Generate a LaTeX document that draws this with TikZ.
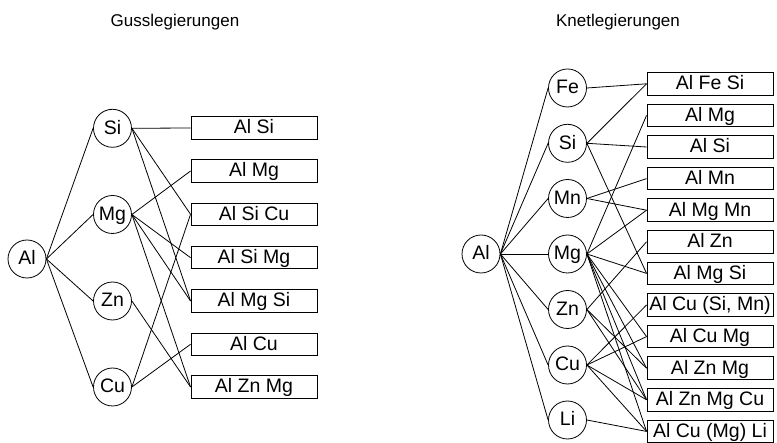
\documentclass[tikz,border=0pt]{standalone}
\usepackage{fontspec}
\setmainfont{Liberation Sans}
\begin{document}
\begin{tikzpicture}[x=1pt,y=-1pt]
\tikzset{
  elem/.style={circle, draw, line width=0.8pt, minimum size=38pt, inner sep=0pt,
    font=\fontsize{19.5pt}{22pt}\selectfont, text height=14pt, text depth=2pt},
  alloy/.style={rectangle, draw, line width=0.9pt, minimum width=126pt, minimum height=22.5pt,
    inner sep=0pt, font=\fontsize{19.5pt}{22pt}\selectfont, text height=14pt, text depth=2pt},
  link/.style={line width=0.8pt},
  ttl/.style={font=\fontsize{17pt}{20pt}\selectfont, inner sep=0pt}
}
\useasboundingbox (0,0) rectangle (777,443);
\fill[white] (0,0) rectangle (777,443);

% titles
\node[ttl] (tG) at (175,22) {Gusslegierungen};
\node[ttl] (tK) at (618,22) {Knetlegierungen};

% ---------- left: Gusslegierungen ----------
\node[elem] (LAl) at (27,259) {Al};
\node[elem] (LSi) at (112.5,128.3) {Si};
\node[elem] (LMg) at (112.5,214.5) {Mg};
\node[elem] (LZn) at (112.5,301) {Zn};
\node[elem] (LCu) at (112.5,387) {Cu};

\node[alloy] (LAlSi)   at (254,128)   {Al Si};
\node[alloy] (LAlMg)   at (254,171)   {Al Mg};
\node[alloy] (LAlSiCu) at (254,214.3) {Al Si Cu};
\node[alloy] (LAlSiMg) at (254,257.7) {Al Si Mg};
\node[alloy] (LAlMgSi) at (254,301)   {Al Mg Si};
\node[alloy] (LAlCu)   at (254,344.3) {Al Cu};
\node[alloy] (LAlZnMg) at (254,387)   {Al Zn Mg};

\foreach \e in {LSi,LMg,LZn,LCu} \draw[link] (LAl.east) -- (\e.west);
\foreach \a/\b in {LSi/LAlSi, LSi/LAlSiCu, LSi/LAlMgSi,
                   LMg/LAlMg, LMg/LAlSiMg, LMg/LAlMgSi, LMg/LAlZnMg,
                   LZn/LAlZnMg,
                   LCu/LAlSiCu, LCu/LAlCu}
  \draw[link] (\a.east) -- (\b.west);

% ---------- right: Knetlegierungen ----------
\node[elem] (RAl) at (481,254) {Al};
\node[elem] (RFe) at (567.5,88)    {Fe};
\node[elem] (RSi) at (567.5,143.3) {Si};
\node[elem] (RMn) at (567.5,198.5) {Mn};
\node[elem] (RMg) at (567.5,254)   {Mg};
\node[elem] (RZn) at (567.5,309.5) {Zn};
\node[elem] (RCu) at (567.5,365)   {Cu};
\node[elem] (RLi) at (567.5,420)   {Li};

\node[alloy] (RAlFeSi)   at (710,83.8)  {Al Fe Si};
\node[alloy] (RAlMg)     at (710,115.4) {Al Mg};
\node[alloy] (RAlSi)     at (710,147.0) {Al Si};
\node[alloy] (RAlMn)     at (710,178.6) {Al Mn};
\node[alloy] (RAlMgMn)   at (710,210.2) {Al Mg Mn};
\node[alloy] (RAlZn)     at (710,241.8) {Al Zn};
\node[alloy] (RAlMgSi)   at (710,273.4) {Al Mg Si};
\node[alloy] (RAlCuSiMn) at (710,305.0) {Al Cu (Si, Mn)};
\node[alloy] (RAlCuMg)   at (710,336.6) {Al Cu Mg};
\node[alloy] (RAlZnMg)   at (710,368.2) {Al Zn Mg};
\node[alloy] (RAlZnMgCu) at (710,399.8) {Al Zn Mg Cu};
\node[alloy] (RAlCuMgLi) at (710,431.4) {Al Cu (Mg) Li};

\foreach \e in {RFe,RSi,RMn,RMg,RZn,RCu,RLi} \draw[link] (RAl.east) -- (\e.west);
\foreach \a/\b in {RFe/RAlFeSi,
                   RSi/RAlFeSi, RSi/RAlSi, RSi/RAlMgSi,
                   RMn/RAlMn, RMn/RAlMgMn,
                   RMg/RAlMg, RMg/RAlMgMn, RMg/RAlMgSi, RMg/RAlCuMg, RMg/RAlZnMg, RMg/RAlZnMgCu, RMg/RAlCuMgLi,
                   RZn/RAlZn, RZn/RAlZnMg, RZn/RAlZnMgCu,
                   RCu/RAlCuSiMn, RCu/RAlCuMg, RCu/RAlZnMgCu, RCu/RAlCuMgLi,
                   RLi/RAlCuMgLi}
  \draw[link] (\a.east) -- (\b.west);
\end{tikzpicture}
\end{document}
